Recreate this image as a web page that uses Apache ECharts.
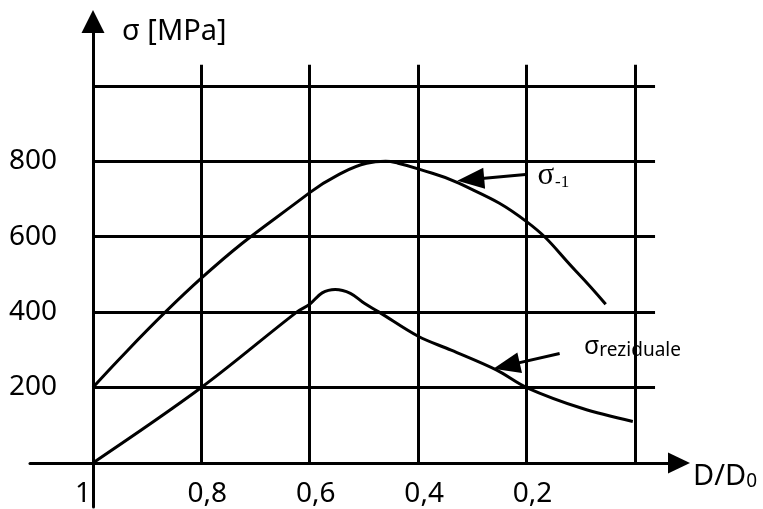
<!DOCTYPE html>
<html>
<head>
<meta charset="utf-8">
<script src="https://cdn.jsdelivr.net/npm/echarts@6/dist/echarts.min.js"></script>
<style>
  html, body { margin: 0; padding: 0; background: #fff; }
  #chart { width: 763px; height: 509px; }
</style>
</head>
<body>
<div id="chart"></div>
<script>
// Relative diameter D/D0 (axis runs from 1 down to 0)
const ratioTicks = [1, 0.8, 0.6, 0.4, 0.2];
const ratioGridLines = [0.8, 0.6, 0.4, 0.2, 0];
// Stress levels in MPa
const stressTicks = [200, 400, 600, 800];
const stressGridLines = [200, 400, 600, 800, 1000];

// Fatigue limit sigma_-1 versus D/D0
const sigmaFatigue = [
  [1, 200], [0.8, 490], [0.6, 717], [0.55, 762],
  [0.495, 795], [0.46, 800], [0.437, 795], [0.4, 780], [0.325, 742],
  [0.2, 640], [0.107, 506], [0.054, 421]
];
// Residual stress versus D/D0
const sigmaResidual = [
  [1, 0], [0.8, 200], [0.624, 400], [0.6, 421], [0.577, 451], [0.553, 460],
  [0.525, 450], [0.5, 424], [0.472, 400], [0.4, 336], [0.339, 299],
  [0.255, 246], [0.2, 200], [0.098, 145], [0.004, 110]
];

// Axis ranges
const xMin = -0.0812, xMax = 1.116;
const yMin = -117, yMax = 1171;
const gridRight = -0.037;   // horizontal grid lines run slightly past D/D0 = 0
const gridTop = 1056;       // vertical grid lines run slightly above 1000

const black = '#000';
const sans = 'Noto Sans';

const gridSegments = [];
stressGridLines.forEach(v => gridSegments.push([{ coord: [1, v] }, { coord: [gridRight, v] }]));
ratioGridLines.forEach(r => gridSegments.push([{ coord: [r, 0] }, { coord: [r, gridTop] }]));

const chart = echarts.init(document.getElementById('chart'), null, { renderer: 'canvas' });
chart.setOption({
  animation: false,
  backgroundColor: '#fff',
  grid: { left: 30, right: 84, top: 21.5, bottom: 2, containLabel: false, outerBoundsMode: 'none' },
  xAxis: {
    type: 'value',
    inverse: true,
    min: xMin,
    max: xMax,
    axisLine: {
      show: true, onZero: true,
      symbol: ['none', 'triangle'], symbolSize: [21, 22],
      lineStyle: { color: black, width: 3 }
    },
    axisTick: { show: false },
    splitLine: { show: false },
    axisLabel: {
      customValues: ratioTicks,
      color: black, fontFamily: sans, fontSize: 28, margin: -27,
      padding: [0, 0, 0, 12],
      formatter: v => v === 1 ? '{one|1}' : String(v).replace('.', ','),
      rich: { one: { color: black, fontFamily: sans, fontSize: 28, padding: [0, 32, 0, 0] } }
    },
    name: '{m|D/D}{s|0}',
    nameLocation: 'start',
    nameGap: 14,
    nameTextStyle: {
      align: 'left', verticalAlign: 'middle', padding: [28, 0, 0, 0],
      rich: {
        m: { color: black, fontFamily: sans, fontSize: 29 },
        s: { color: black, fontFamily: sans, fontSize: 19, padding: [10, 0, 0, 0] }
      }
    }
  },
  yAxis: {
    type: 'value',
    min: yMin,
    max: yMax,
    offset: -63,
    axisLine: {
      show: true, onZero: false,
      symbol: ['none', 'triangle'], symbolSize: [23, 23],
      lineStyle: { color: black, width: 3 }
    },
    axisTick: { show: false },
    splitLine: { show: false },
    axisLabel: {
      customValues: stressTicks,
      color: black, fontFamily: sans, fontSize: 28, margin: 36
    },
    name: 'σ [MPa]',
    nameLocation: 'end',
    nameGap: -10,
    nameTextStyle: {
      color: black, fontFamily: sans, fontSize: 29,
      align: 'left', verticalAlign: 'middle', padding: [0, 0, 0, 29]
    }
  },
  series: [
    {
      name: 'grid',
      type: 'line',
      data: [],
      silent: true,
      markLine: {
        silent: true,
        symbol: 'none',
        label: { show: false },
        emphasis: { disabled: true },
        lineStyle: { color: black, width: 3, type: 'solid' },
        data: gridSegments
      }
    },
    {
      name: 'σ-1',
      type: 'line',
      data: sigmaFatigue,
      smooth: 0.45,
      showSymbol: false,
      clip: false,
      lineStyle: { color: black, width: 3 },
      markLine: {
        silent: true,
        symbol: ['none', 'triangle'],
        symbolSize: [21, 27],
        label: { show: false },
        emphasis: { disabled: true },
        lineStyle: { color: black, width: 3, type: 'solid' },
        data: [[{ coord: [0.202, 765] }, { coord: [0.303, 752] }]]
      },
      markPoint: {
        silent: true,
        symbol: 'circle',
        symbolSize: 0,
        data: [{ coord: [0.18, 762] }],
        label: {
          show: true, position: 'right', distance: 0,
          formatter: '{a|σ}{b|-1}',
          rich: {
            a: { color: black, fontFamily: 'Liberation Serif', fontSize: 31 },
            b: { color: black, fontFamily: 'Liberation Serif', fontSize: 17, padding: [14, 0, 0, 1] }
          }
        }
      }
    },
    {
      name: 'σreziduale',
      type: 'line',
      data: sigmaResidual,
      smooth: 0.35,
      showSymbol: false,
      clip: false,
      lineStyle: { color: black, width: 3 },
      markLine: {
        silent: true,
        symbol: ['none', 'triangle'],
        symbolSize: [21, 27],
        label: { show: false },
        emphasis: { disabled: true },
        lineStyle: { color: black, width: 3, type: 'solid' },
        data: [[{ coord: [0.139, 290] }, { coord: [0.237, 258] }]]
      },
      markPoint: {
        silent: true,
        symbol: 'circle',
        symbolSize: 0,
        data: [{ coord: [0.094, 308] }],
        label: {
          show: true, position: 'right', distance: 0,
          formatter: '{a|σ}{b|reziduale}',
          rich: {
            a: { color: black, fontFamily: sans, fontSize: 25 },
            b: { color: black, fontFamily: sans, fontSize: 19, padding: [8, 0, 0, 0] }
          }
        }
      }
    }
  ]
});
</script>
</body>
</html>
